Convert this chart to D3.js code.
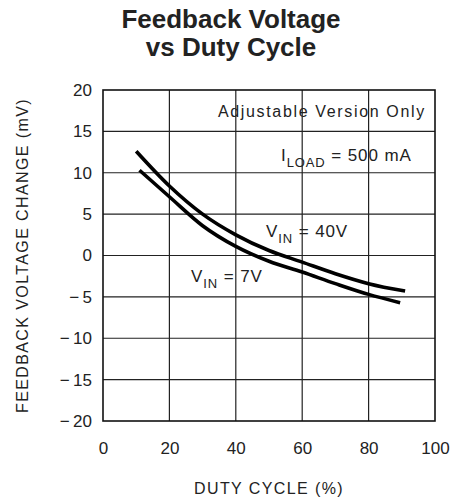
<!DOCTYPE html>
<html><head><meta charset="utf-8">
<script src="https://cdn.jsdelivr.net/npm/d3@7"></script>
<style>
html,body{margin:0;padding:0;background:#fff;}
svg{display:block;}
</style></head>
<body>
<script>
// Data
const dutyVin40 = [10, 20, 30, 40, 50, 60, 70, 80, 91];
const fbVin40   = [12.6, 8.4, 5.0, 2.5, 0.6, -0.8, -2.2, -3.4, -4.3];
const dutyVin7  = [11, 20, 30, 40, 50, 60, 70, 80, 89.5];
const fbVin7    = [10.3, 7.1, 3.6, 1.1, -0.7, -2.0, -3.4, -4.7, -5.7];
const xTicks = [0, 20, 40, 60, 80, 100];
const yTicks = [20, 15, 10, 5, 0, -5, -10, -15, -20];
const yTickLabels = ["20", "15", "10", "5", "0", "\u2212\u20095", "\u2212\u200910", "\u2212\u200915", "\u2212\u200920"];

const W = 456, H = 500;
const svg = d3.select("body").append("svg").attr("width", W).attr("height", H);

const x = d3.scaleLinear().domain([0, 100]).range([103, 435]);
const y = d3.scaleLinear().domain([-20, 20]).range([421, 90]);

const font = "'Liberation Sans', Arial, sans-serif";

// Title
const title = svg.append("text").attr("text-anchor", "middle")
  .attr("font-family", font).attr("font-weight", "bold").attr("font-size", 26).attr("fill", "#222");
title.append("tspan").attr("x", 231).attr("y", 28).text("Feedback Voltage");
title.append("tspan").attr("x", 231).attr("y", 56).text("vs Duty Cycle");

// Grid
const grid = svg.append("g").attr("stroke", "#222").attr("stroke-width", 1.2);
grid.selectAll(".vg").data(xTicks.slice(1, -1)).join("line")
  .attr("x1", d => x(d)).attr("x2", d => x(d)).attr("y1", y(20)).attr("y2", y(-20));
grid.selectAll(".hg").data(yTicks.slice(1, -1)).join("line")
  .attr("x1", x(0)).attr("x2", x(100)).attr("y1", d => y(d)).attr("y2", d => y(d));

// Axes (labels only, via d3 axes)
const xAxis = svg.append("g").attr("transform", `translate(0,${y(-20)})`)
  .call(d3.axisBottom(x).tickValues(xTicks).tickSize(0).tickPadding(21).tickFormat(d3.format("d")));
const yAxis = svg.append("g").attr("transform", `translate(${x(0)},0)`)
  .call(d3.axisLeft(y).tickValues(yTicks).tickSize(0).tickPadding(11)
    .tickFormat((d, i) => yTickLabels[i]));
[xAxis, yAxis].forEach(a => {
  a.select(".domain").remove();
  a.selectAll("text").attr("font-family", font).attr("font-size", 17).attr("fill", "#222");
});

// Border
svg.append("rect").attr("x", x(0)).attr("y", y(20))
  .attr("width", x(100) - x(0)).attr("height", y(-20) - y(20))
  .attr("fill", "none").attr("stroke", "#111").attr("stroke-width", 1.6);

// Curves
const line = d3.line().curve(d3.curveMonotoneX).x(d => x(d[0])).y(d => y(d[1]));
const s40 = dutyVin40.map((d, i) => [d, fbVin40[i]]);
const s7 = dutyVin7.map((d, i) => [d, fbVin7[i]]);
[s40, s7].forEach(s => {
  svg.append("path").datum(s).attr("d", line).attr("fill", "none")
    .attr("stroke", "#000").attr("stroke-width", 3.6);
});

// Annotations
const ann = svg.append("g").attr("font-family", font).attr("fill", "#222");
ann.append("text").attr("x", 218).attr("y", 117).attr("font-size", 16)
  .attr("letter-spacing", 1.65).text("Adjustable Version Only");

function subLabel(xp, yp, main, sub, rest) {
  const t = ann.append("text").attr("x", xp).attr("y", yp).attr("font-size", 17).attr("letter-spacing", 0.9);
  t.append("tspan").text(main);
  t.append("tspan").attr("font-size", 13).attr("dy", 6).text(sub);
  t.append("tspan").attr("dy", -6).text(rest);
}
subLabel(281, 161, "I", "LOAD", " = 500 mA");
subLabel(266, 237, "V", "IN", " = 40V");
subLabel(191, 282, "V", "IN", " = 7V");

// Axis titles
svg.append("text").attr("x", x(50)).attr("y", 494).attr("text-anchor", "middle")
  .attr("font-family", font).attr("font-size", 16).attr("letter-spacing", 1.4).attr("fill", "#222")
  .text("DUTY CYCLE (%)");
svg.append("text").attr("transform", `translate(28,${(y(20) + y(-20)) / 2}) rotate(-90)`)
  .attr("text-anchor", "middle")
  .attr("font-family", font).attr("font-size", 16).attr("letter-spacing", 1.4).attr("fill", "#222")
  .text("FEEDBACK VOLTAGE CHANGE (mV)");
</script>
</body></html>
